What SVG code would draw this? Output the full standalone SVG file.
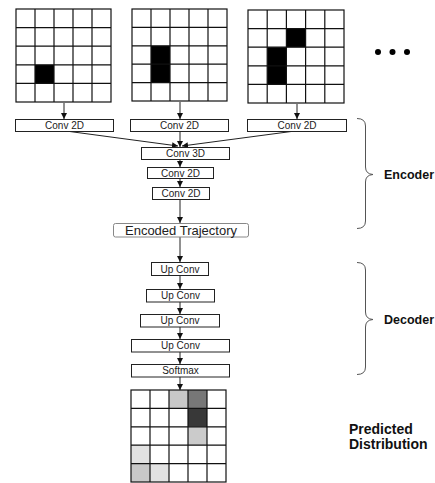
<svg xmlns="http://www.w3.org/2000/svg" width="435" height="483" viewBox="0 0 435 483">
<style>
.grid{fill:none;stroke:#111;stroke-width:1.2}
.box{fill:#fff;stroke:#222;stroke-width:1}
.lbl{font-family:"Liberation Sans",Arial,sans-serif;font-size:10px;fill:#222;text-anchor:middle}
.big{font-family:"Liberation Sans",Arial,sans-serif;font-size:14px;font-weight:bold;fill:#111}
.side{font-family:"Liberation Sans",Arial,sans-serif;font-size:12.5px;font-weight:bold;fill:#111}
.conn{stroke:#222;stroke-width:1;fill:none;marker-end:url(#ah)}
.brace{fill:none;stroke:#555;stroke-width:1}
</style>
<defs>
<marker id="ah" markerWidth="6" markerHeight="6" refX="6" refY="3" orient="auto" markerUnits="userSpaceOnUse">
<path d="M0,0 L6,3 L0,6 z" fill="#111"/>
</marker>
</defs>
<rect width="435" height="483" fill="#fff"/>

<g id="input1">
<rect x="35" y="64.8" width="19" height="18.6" fill="#000"/>
<rect class="grid" x="16" y="9" width="95" height="93"/>
<path class="grid" d="M35,9V102M54,9V102M73,9V102M92,9V102M16,27.6H111M16,46.2H111M16,64.8H111M16,83.4H111"/>
</g>
<g id="input2">
<rect x="151" y="45.8" width="19" height="36.8" fill="#000"/>
<rect class="grid" x="132" y="9" width="95" height="92"/>
<path class="grid" d="M151,9V101M170,9V101M189,9V101M208,9V101M132,27.4H227M132,45.8H227M132,64.2H227M132,82.6H227"/>
</g>
<g id="input3">
<rect x="286.4" y="28.6" width="19.2" height="18.6" fill="#000"/>
<rect x="267.2" y="47.2" width="19.2" height="37.2" fill="#000"/>
<rect class="grid" x="248" y="10" width="96" height="93"/>
<path class="grid" d="M267.2,10V103M286.4,10V103M305.6,10V103M324.8,10V103M248,28.6H344M248,47.2H344M248,65.8H344M248,84.4H344"/>
</g>
<g id="ellipsis">
<circle cx="378" cy="52" r="3" fill="#000"/>
<circle cx="392.5" cy="52" r="3" fill="#000"/>
<circle cx="407" cy="52" r="3" fill="#000"/>
</g>

<g id="connectors">
<line class="conn" x1="64" y1="103" x2="64" y2="119"/>
<line class="conn" x1="180" y1="102" x2="180" y2="119"/>
<line class="conn" x1="297" y1="104" x2="297" y2="119"/>
<line class="conn" x1="66" y1="131" x2="178" y2="146"/>
<line class="conn" x1="180" y1="131" x2="180" y2="147"/>
<line class="conn" x1="295" y1="131" x2="182" y2="146"/>
<line class="conn" x1="180" y1="160" x2="180" y2="167"/>
<line class="conn" x1="180" y1="178" x2="180" y2="187"/>
<line class="conn" x1="180" y1="200" x2="180" y2="223"/>
<line class="conn" x1="180" y1="237" x2="180" y2="262"/>
<line class="conn" x1="180" y1="276" x2="180" y2="289"/>
<line class="conn" x1="180" y1="302" x2="180" y2="314"/>
<line class="conn" x1="180" y1="327" x2="180" y2="339"/>
<line class="conn" x1="180" y1="352" x2="180" y2="364"/>
<line class="conn" x1="180" y1="377" x2="180" y2="390"/>
</g>

<g id="conv2d_1"><rect class="box" x="15.5" y="119.5" width="98" height="12"/><text class="lbl" x="64.5" y="129">Conv 2D</text></g>
<g id="conv2d_2"><rect class="box" x="130.5" y="119.5" width="98" height="12"/><text class="lbl" x="179.5" y="129">Conv 2D</text></g>
<g id="conv2d_3"><rect class="box" x="247.5" y="119.5" width="99" height="12"/><text class="lbl" x="297" y="129">Conv 2D</text></g>
<g id="conv3d"><rect class="box" x="141.5" y="147.5" width="88" height="12"/><text class="lbl" x="185.5" y="157">Conv 3D</text></g>
<g id="conv2d_4"><rect class="box" x="147.5" y="167.5" width="66" height="11"/><text class="lbl" x="180.5" y="176.5">Conv 2D</text></g>
<g id="conv2d_5"><rect class="box" x="152.5" y="187.5" width="57" height="12"/><text class="lbl" x="181" y="197">Conv 2D</text></g>
<g id="encoded"><rect x="113.5" y="223.5" width="135" height="13.5" rx="2" fill="#fff" stroke="#888" stroke-width="1"/><text x="181" y="234.5" font-family="Liberation Sans, Arial, sans-serif" font-size="13" fill="#222" text-anchor="middle">Encoded Trajectory</text></g>
<g id="upconv1"><rect class="box" x="151.5" y="262.5" width="57" height="13"/><text class="lbl" x="180" y="272.5">Up Conv</text></g>
<g id="upconv2"><rect class="box" x="146.5" y="289.5" width="68" height="12.5"/><text class="lbl" x="180.5" y="299">Up Conv</text></g>
<g id="upconv3"><rect class="box" x="140.5" y="314.5" width="79" height="12.5"/><text class="lbl" x="180" y="324">Up Conv</text></g>
<g id="upconv4"><rect class="box" x="131.5" y="339.5" width="98" height="12.5"/><text class="lbl" x="180.5" y="349">Up Conv</text></g>
<g id="softmax"><rect class="box" x="131.5" y="364.5" width="98" height="12.5"/><text class="lbl" x="180.5" y="374">Softmax</text></g>

<g id="output">
<rect x="169" y="390" width="19" height="18.4" fill="#c8c8c8"/>
<rect x="188" y="390" width="19" height="18.4" fill="#777"/>
<rect x="188" y="408.4" width="19" height="18.4" fill="#383838"/>
<rect x="188" y="426.8" width="19" height="18.4" fill="#cbcbcb"/>
<rect x="131" y="445.2" width="19" height="18.4" fill="#e2e2e2"/>
<rect x="131" y="463.6" width="19" height="18.4" fill="#c8c8c8"/>
<rect x="150" y="463.6" width="19" height="18.4" fill="#e2e2e2"/>
<rect class="grid" x="131" y="390" width="95" height="92"/>
<path class="grid" d="M150,390V482M169,390V482M188,390V482M207,390V482M131,408.4H226M131,426.8H226M131,445.2H226M131,463.6H226"/>
</g>

<g id="encoder_brace">
<path class="brace" d="M357,118.5 Q365.5,118.5 365.5,126 V167 Q365.5,174 373,174.5 Q365.5,175 365.5,182 V221 Q365.5,228.5 357,228.5"/>
<text class="side" x="384" y="179">Encoder</text>
</g>
<g id="decoder_brace">
<path class="brace" d="M357,262.5 Q365.5,262.5 365.5,270 V312 Q365.5,319 373,319.5 Q365.5,320 365.5,327 V367 Q365.5,374.5 357,374.5"/>
<text class="side" x="384" y="323.5">Decoder</text>
</g>
<g id="predicted">
<text class="big" x="349" y="434">Predicted</text>
<text class="big" x="349" y="449">Distribution</text>
</g>
</svg>
